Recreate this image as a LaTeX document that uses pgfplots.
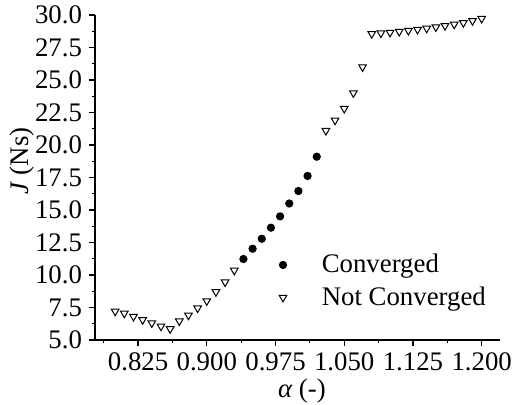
\documentclass[border=0pt]{standalone}
\usepackage{fontspec}
\setmainfont{Liberation Serif}
\usepackage{pgfplots}
\pgfplotsset{compat=1.18}

\newcommand{\chartfont}{\fontsize{13.4}{16}\selectfont}

\begin{document}
\begin{tikzpicture}
\begin{axis}[
  scale only axis,
  width=202.5pt, height=162.5pt,
  xmin=0.778, xmax=1.220,
  ymin=5, ymax=30,
  axis x line*=bottom, axis y line*=left,
  axis line style={-, line width=0.6pt, black},
  xtick={0.825,0.9,0.975,1.05,1.125,1.2},
  minor xtick={0.7875,0.8625,0.9375,1.0125,1.0875,1.1625},
  ytick={5,7.5,10,12.5,15,17.5,20,22.5,25,27.5,30},
  minor ytick={6.25,8.75,11.25,13.75,16.25,18.75,21.25,23.75,26.25,28.75},
  tick align=outside,
  major tick length=3pt, minor tick length=1.6pt,
  tick style={line width=0.6pt, black},
  /pgf/number format/assume math mode=true,
  xticklabel style={font=\chartfont, /pgf/number format/.cd, fixed, fixed zerofill, precision=3},
  yticklabel style={font=\chartfont, /pgf/number format/.cd, fixed, fixed zerofill, precision=1},
  scaled ticks=false,
  xlabel={{\itshape α} (-)},
  ylabel={\textit{J} (Ns)},
  label style={font=\chartfont},
  xlabel style={at={(axis description cs:0.511,-0.157)}, anchor=center},
  ylabel style={at={(axis description cs:-0.18,0.55)}, anchor=center, rotate=0},
  legend style={draw=none, fill=none, font=\chartfont,
    at={(axis description cs:0.439,0.29)}, anchor=north west,
    row sep=1.5pt, column sep=15.5pt},
  legend cell align=left,
]
% converged solutions
\addplot[only marks, mark=*, mark size=1.85pt, black] coordinates {
  (0.94,11.23) (0.95,12.02) (0.96,12.79) (0.97,13.64) (0.98,14.51)
  (0.99,15.50) (1.00,16.46) (1.01,17.62) (1.02,19.10)
};
\addlegendentry{Converged}
% runs that did not converge
\addplot[only marks, mark=triangle, mark size=2.2pt, black,
  mark options={rotate=180, fill=white, line width=0.5pt}] coordinates {
  (0.80,7.20) (0.81,7.05) (0.82,6.80) (0.83,6.55) (0.84,6.30)
  (0.85,6.05) (0.86,5.85) (0.87,6.45) (0.88,6.90) (0.89,7.45)
  (0.90,8.00) (0.91,8.70) (0.92,9.45) (0.93,10.35)
  (1.03,21.10) (1.04,21.90) (1.05,22.80) (1.06,24.00) (1.07,26.00)
  (1.08,28.55) (1.09,28.60) (1.10,28.65) (1.11,28.72) (1.12,28.80)
  (1.13,28.88) (1.14,28.97) (1.15,29.07) (1.16,29.17) (1.17,29.28)
  (1.18,29.40) (1.19,29.55) (1.20,29.72)
};
\addlegendentry{Not Converged}
\end{axis}
\pgfresetboundingbox
\path (-47.5pt,-32.5pt) rectangle (209.5pt,170pt);
\end{tikzpicture}
\end{document}
